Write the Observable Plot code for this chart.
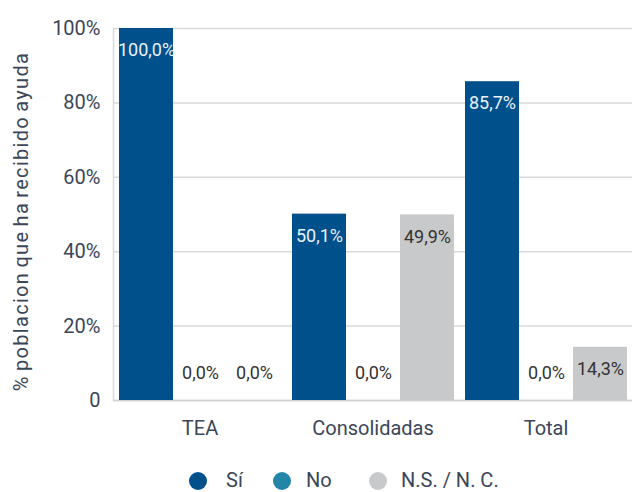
<!DOCTYPE html>
<html>
<head>
<meta charset="utf-8">
<script src="https://cdn.jsdelivr.net/npm/d3@7"></script>
<script src="https://cdn.jsdelivr.net/npm/@observablehq/plot@0.6"></script>
<style>
  html, body { margin: 0; padding: 0; background: #fff; overflow: hidden; }
  body { position: relative; width: 632px; height: 492px; font-family: Roboto, sans-serif; color: #3b4658; }
  #legend { position: absolute; top: 469px; left: 0; width: 632px; height: 22px; }
  .dot { position: absolute; top: 3px; width: 18px; height: 18px; border-radius: 50%; }
  .lbl { position: absolute; top: 0; height: 22px; line-height: 22px; font-size: 20px; }
  text[aria-label="ylabel"], [aria-label="ylabel"] text { letter-spacing: 1.3px; word-spacing: -2px; }
</style>
</head>
<body>
<div id="chart"></div>
<div id="legend"></div>
<script>
const groups = ["TEA", "Consolidadas", "Total"];
const series = ["Sí", "No", "N.S. / N. C."];
const si = [100.0, 50.1, 85.7];
const no = [0.0, 0.0, 0.0];
const nsnc = [0.0, 49.9, 14.3];
const colors = ["#00508c", "#2386a8", "#c8c9cb"];
const yTicks = [0, 20, 40, 60, 80, 100];
const yLabel = "% poblacion que ha recibido ayuda";
const legendDotLeft = [189, 273, 369];
const legendTextLeft = [226, 306, 401];

const fmt = v => v.toFixed(1).replace(".", ",") + "%";
const values = [si, no, nsnc];
const rows = groups.flatMap((g, i) => series.map((s, j) => ({group: g, serie: s, value: values[j][i]})));

const chart = Plot.plot({
  width: 632,
  height: 445,
  marginLeft: 113,
  marginRight: 0,
  marginTop: 28,
  marginBottom: 45,
  style: {fontFamily: "Roboto, sans-serif", fontSize: "20px", color: "#3b4658", background: "#fff", overflow: "visible"},
  fx: {domain: groups, padding: 0, label: null},
  x: {domain: series, paddingInner: 0, paddingOuter: 0.087, axis: null},
  y: {domain: [0, 100]},
  color: {domain: series, range: colors},
  marks: [
    Plot.gridY(yTicks, {stroke: "#d9d9d9", strokeOpacity: 1, strokeWidth: 1.5}),
    Plot.ruleY([0], {stroke: "#d0d0d0", strokeWidth: 1.5}),
    Plot.frame({anchor: "left", facetAnchor: "left", stroke: "#d9d9d9", strokeWidth: 1.5}),
    Plot.barY(rows, {fx: "group", x: "serie", y: "value", fill: "serie"}),
    Plot.text(rows.filter(d => d.value > 0 && d.serie === series[0]), {
      fx: "group", x: "serie", y: "value", text: d => fmt(d.value), dy: 22, fill: "#eaf0f6", fontSize: 18
    }),
    Plot.text(rows.filter(d => d.value > 0 && d.serie !== series[0]), {
      fx: "group", x: "serie", y: "value", text: d => fmt(d.value), dy: 22, fill: "#333", fontSize: 18
    }),
    Plot.text(rows.filter(d => d.value === 0), {
      fx: "group", x: "serie", y: "value", text: d => fmt(d.value), dy: -27, fill: "#333", fontSize: 18
    }),
    Plot.axisY(yTicks, {tickSize: 0, tickPadding: 13, tickFormat: d => d === 0 ? "0" : d + "%", label: null, fontSize: 20}),
    Plot.axisFx({anchor: "bottom", tickSize: 0, tickPadding: 20, label: null, fontSize: 20}),
    Plot.text([yLabel], {
      ariaLabel: () => "ylabel", frameAnchor: "left", facetAnchor: "left", textAnchor: "middle",
      rotate: -90, dx: -92, dy: 7, fontSize: 20, fill: "#3b4658"
    })
  ]
});
document.getElementById("chart").appendChild(chart);

const legend = document.getElementById("legend");
series.forEach((s, i) => {
  const dot = document.createElement("span");
  dot.className = "dot";
  dot.style.left = legendDotLeft[i] + "px";
  dot.style.background = colors[i];
  const label = document.createElement("span");
  label.className = "lbl";
  label.style.left = legendTextLeft[i] + "px";
  label.textContent = s;
  legend.appendChild(dot);
  legend.appendChild(label);
});
</script>
</body>
</html>
